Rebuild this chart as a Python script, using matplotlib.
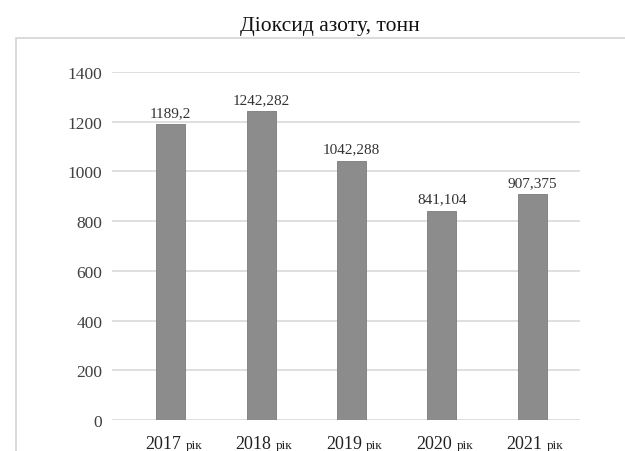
import matplotlib
matplotlib.use("Agg")
import matplotlib.pyplot as plt
from matplotlib.patches import Rectangle

years = ["2017", "2018", "2019", "2020", "2021"]
suffix = "рік"
values = [1189.2, 1242.282, 1042.288, 841.104, 907.375]
value_labels = ["1189,2", "1242,282", "1042,288", "841,104", "907,375"]
yticks = [0, 200, 400, 600, 800, 1000, 1200, 1400]
title = "Діоксид азоту, тонн"

plt.rcParams['font.family'] = ['Liberation Serif', 'DejaVu Serif']

W, H = 625, 452
fig = plt.figure(figsize=(W / 100, H / 100), dpi=100)
fig.patch.set_facecolor("white")

# outer chart frame (extends beyond right/bottom edges)
fig.patches.append(Rectangle((16 / W, -0.05), 1.0, 1 - 39 / H + 0.05,
                             transform=fig.transFigure, fill=False,
                             edgecolor="#d4d4d4", linewidth=1.2))

ax = fig.add_axes([112 / W, 1 - 421 / H, (580 - 112) / W, (421 - 73) / H])
x = list(range(len(years)))
ax.bar(x, values, width=0.32, color="#8c8c8c", edgecolor="#7a7a7a",
       linewidth=0.6, zorder=3)
ax.set_xlim(-0.65, 4.53)
ax.set_ylim(0, 1400)
ax.set_yticks(yticks)
ax.set_yticklabels([str(t) for t in yticks], fontsize=12.5, color="#404040")
ax.yaxis.grid(True, color="#d9d9d9", linewidth=1.2, zorder=0)
ax.set_axisbelow(True)
for s in ax.spines.values():
    s.set_visible(False)
ax.tick_params(axis="y", length=0, pad=7)
ax.tick_params(axis="x", length=0)
ax.set_xticks([])

for xi, v, lab in zip(x, values, value_labels):
    ax.text(xi, v + 22, lab, ha="center", va="bottom", fontsize=11,
            color="#333333")

for xi, y in zip(x, years):
    ax.annotate(y, xy=(xi, 0), xycoords="data", xytext=(7.5, -11),
                textcoords="offset points", ha="right", va="top",
                fontsize=13, color="#222222")
    ax.annotate(suffix, xy=(xi, 0), xycoords="data", xytext=(10.5, -13.5),
                textcoords="offset points", ha="left", va="top",
                fontsize=9.5, color="#222222")

fig.text(330 / W, 1 - 27 / H, title, ha="center", va="center", fontsize=15.5,
         color="#111111")

fig.savefig("out.png", dpi=100)
